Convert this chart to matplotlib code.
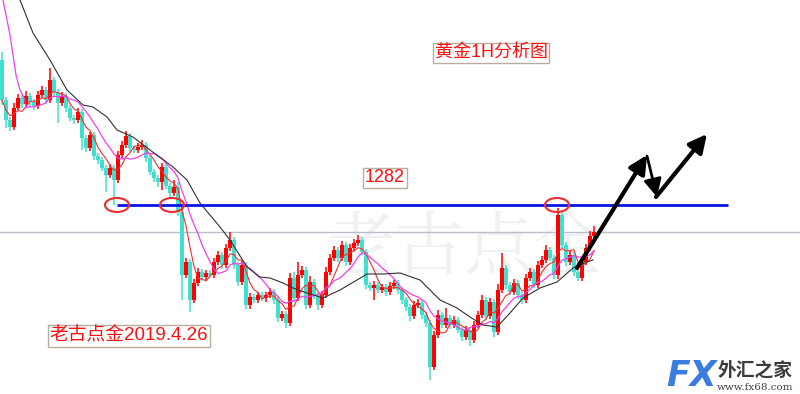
import numpy as np
import pandas as pd
import matplotlib
matplotlib.use("Agg")
from matplotlib import pyplot as plt
from matplotlib.patches import Ellipse

plt.rcParams['font.family'] = ['Noto Sans CJK SC', 'DejaVu Sans']

# hourly gold closes
closes = [
    1292.5, 1290.5, 1289.8, 1291.7, 1292.7, 1292.1, 1292.9, 1292.3, 1291.9, 1293.0,
    1293.5, 1292.5, 1294.5, 1293.3, 1292.2, 1292.9, 1291.7, 1290.7, 1290.5, 1291.3,
    1288.7, 1287.7, 1289.0, 1286.9, 1286.5, 1285.7, 1285.0, 1285.7, 1284.5, 1287.0,
    1288.0, 1288.9, 1287.7, 1287.5, 1287.8, 1288.0, 1286.7, 1285.3, 1284.7, 1284.3,
    1285.8, 1283.9, 1283.2, 1283.8, 1281.3, 1275.0, 1276.3, 1272.5, 1274.2, 1275.3,
    1274.8, 1275.2, 1275.0, 1276.3, 1277.0, 1276.0, 1277.7, 1278.5, 1276.0, 1274.3,
    1276.0, 1272.0, 1272.8, 1272.5, 1273.0, 1272.7, 1273.0, 1273.3, 1272.5, 1270.7,
    1271.1, 1270.2, 1274.7, 1272.7, 1275.0, 1275.5, 1272.0, 1274.3, 1273.0, 1272.0,
    1273.0, 1275.3, 1276.7, 1277.5, 1276.7, 1278.0, 1276.3, 1277.7, 1278.2, 1278.5,
    1277.3, 1274.0, 1273.7, 1274.0, 1273.5, 1273.8, 1273.3, 1273.9, 1274.2, 1273.5,
    1272.5, 1271.8, 1270.9, 1272.0, 1272.2, 1271.0, 1270.2, 1265.8, 1269.0, 1271.0,
    1270.0, 1270.7, 1270.0, 1270.5, 1269.5, 1268.8, 1269.5, 1268.5, 1270.0, 1271.0,
    1272.5, 1270.9, 1272.3, 1269.3, 1273.5, 1275.7, 1274.0, 1273.3, 1274.2, 1273.0,
    1272.5, 1274.7, 1275.3, 1274.0, 1276.0, 1276.5, 1277.5, 1276.7, 1275.0, 1281.0,
    1278.0, 1276.3, 1277.0, 1275.3, 1274.7, 1276.3, 1277.7, 1278.9, 1279.3,
]
first_open = 1296.5

# wick lengths above / below the body
up_wick = [
    0.8, 0.3, 0.3, 0.5, 0.4, 0.3, 0.5, 0.3, 0.3, 0.4,
    0.4, 0.3, 1.2, 0.3, 0.3, 0.4, 0.3, 0.3, 0.3, 0.4,
    0.3, 0.3, 0.3, 0.3, 0.3, 0.3, 0.3, 0.4, 0.3, 0.4,
    0.4, 0.5, 0.3, 0.3, 0.4, 0.5, 0.3, 0.3, 0.3, 0.3,
    0.4, 0.3, 0.3, 0.7, 0.5, 0.3, 0.4, 0.3, 0.4, 0.4,
    0.3, 0.3, 0.3, 0.4, 0.4, 0.3, 0.4, 0.8, 0.3, 0.3,
    0.4, 0.3, 0.4, 0.3, 0.3, 0.3, 0.3, 0.4, 0.3, 0.3,
    0.3, 0.3, 0.5, 0.6, 1.3, 0.4, 0.3, 0.6, 0.3, 0.3,
    0.4, 0.5, 0.4, 0.4, 0.3, 0.4, 0.3, 0.4, 0.4, 0.5,
    0.3, 0.3, 0.3, 0.4, 0.3, 0.3, 0.3, 0.4, 0.3, 0.3,
    0.3, 0.3, 0.3, 0.4, 0.4, 0.3, 0.3, 0.3, 0.4, 0.5,
    0.3, 1.0, 0.3, 0.4, 0.3, 0.3, 0.4, 0.3, 0.4, 0.4,
    0.5, 0.3, 0.4, 0.3, 0.6, 1.5, 0.3, 0.3, 0.4, 0.3,
    0.3, 0.4, 0.4, 0.3, 0.4, 0.4, 0.5, 0.3, 0.3, 0.7,
    0.3, 0.3, 0.4, 0.3, 0.3, 0.4, 0.4, 0.5, 0.6,
]
dn_wick = [
    0.5, 0.8, 0.4, 0.3, 0.3, 0.4, 0.3, 0.5, 0.4, 0.3,
    0.3, 0.4, 0.3, 0.4, 2.0, 0.3, 0.4, 0.3, 0.4, 0.3,
    1.2, 0.4, 0.3, 0.4, 0.4, 0.3, 1.7, 0.3, 2.5, 0.3,
    0.3, 0.3, 0.4, 0.3, 0.3, 0.3, 0.4, 0.3, 0.4, 0.5,
    0.8, 0.3, 0.4, 0.3, 0.4, 2.5, 0.3, 1.2, 0.3, 0.3,
    0.4, 0.3, 0.3, 0.3, 0.3, 0.4, 0.3, 0.3, 0.4, 0.4,
    0.3, 0.4, 0.4, 0.3, 0.3, 0.3, 0.4, 0.3, 0.4, 0.4,
    0.3, 0.5, 0.3, 0.3, 0.3, 0.3, 0.4, 0.3, 0.4, 0.5,
    0.3, 0.3, 0.3, 0.3, 0.4, 0.3, 0.4, 0.3, 0.3, 0.3,
    0.3, 0.4, 0.3, 1.2, 0.3, 0.3, 0.4, 0.3, 0.3, 0.4,
    0.4, 0.4, 0.5, 0.3, 0.3, 0.4, 0.4, 1.3, 0.3, 0.3,
    0.3, 0.3, 0.4, 0.3, 0.3, 0.4, 0.3, 0.6, 0.3, 0.3,
    0.3, 0.4, 0.3, 0.5, 0.3, 0.3, 0.4, 0.3, 0.3, 0.4,
    0.4, 0.3, 0.3, 0.3, 0.3, 0.3, 0.3, 0.3, 0.4, 0.4,
    0.3, 0.4, 0.3, 0.4, 0.3, 0.3, 0.3, 0.3, 0.3,
]

# long moving average (bar index -> price)
ma_long_idx = [4.5, 7.75, 12, 16.25, 20.25, 22.75, 26.25, 28.75, 32.75, 37, 42.75, 46.25,
               49.5, 54.5, 57, 61.25, 64.5, 67, 70.25, 72.75, 76.25, 80.25, 84.5, 88.75,
               91.25, 95.25, 99.5, 104.5, 109.5, 113.75, 117, 120.25, 123.75, 127, 130.25,
               134.5, 138.75, 142.75, 146.25, 147.75]
ma_long_val = [1302.5, 1299.2, 1296.5, 1293.5, 1292.0, 1291.8, 1290.8, 1289.5, 1288.8, 1287.5,
               1285.8, 1284.5, 1282.2, 1279.8, 1278.5, 1275.8, 1274.8, 1274.7, 1274.2, 1273.7,
               1273.2, 1272.7, 1273.5, 1274.5, 1275.1, 1275.1, 1275.2, 1274.5, 1272.5, 1271.7,
               1270.8, 1270.0, 1269.8, 1271.2, 1272.7, 1273.7, 1274.3, 1275.7, 1276.3, 1276.5]

# start of the 10-bar average, carried in from bars before the window
ma10_head_idx = [0.25, 2, 3.5, 4.5, 5.75]
ma10_head_val = [1302.5, 1299.0, 1295.0, 1293.5, 1292.5]

level = 1282.0
last_price = 1279.3
touch_bars = [28.75, 42.5, 138.75]

opens = [first_open] + closes[:-1]
df = pd.DataFrame({"open": opens, "close": closes})
df["high"] = df[["open", "close"]].max(axis=1) + np.array(up_wick)
df["low"] = df[["open", "close"]].min(axis=1) - np.array(dn_wick)
x = np.arange(len(df))

fig = plt.figure(figsize=(8, 3.94), dpi=100)
ax = fig.add_axes([0, 0, 1, 1])
ax.set_xlim(-0.5, 199.5)
ax.set_ylim(1263.1, 1302.5)
ax.axis("off")

# watermark
ax.text(0.58, 0.365, "老古点金", transform=ax.transAxes, fontsize=50, color="#f1f1f1",
        ha="center", va="center", family=["Noto Serif CJK SC", "Noto Sans CJK SC"], zorder=0)

ax.axhline(last_price, color="#b7bfcc", lw=1, zorder=1)

up = df["close"] >= df["open"]
red = "#ff0000"
cyan = "#40e0d0"
cols = np.where(up, red, cyan)
ax.vlines(x, df["low"], df["high"], colors=cols, lw=1.1, zorder=2)
body_h = (df["close"] - df["open"]).abs().clip(lower=0.15)
ax.bar(x, body_h, bottom=df[["open", "close"]].min(axis=1), width=0.82,
       color=cols, linewidth=0, zorder=3)

ma5 = df["close"].rolling(5, min_periods=1).mean()
ma10 = df["close"].rolling(10, min_periods=1).mean()
ax.plot(x, ma5, color="#f03030", lw=0.8, zorder=4)
ax.plot(list(ma10_head_idx) + list(x[6:]), list(ma10_head_val) + list(ma10[6:]),
        color="#f040f0", lw=0.9, zorder=4)
ax.plot(ma_long_idx, ma_long_val, color="#303030", lw=0.8, zorder=4)

ax.hlines(level, 28.75, 181.5, color="#0a14e6", lw=2, zorder=5)
for b in touch_bars:
    ax.add_patch(Ellipse((b, level), 6, 1.4, fill=False, edgecolor="#e83030", lw=1.5, zorder=6))

arrow = dict(arrowstyle="-|>,head_length=0.9,head_width=0.45", color="black", lw=3,
             shrinkA=0, shrinkB=0, mutation_scale=12)
ax.annotate("", xy=(161.25, 1287.0), xytext=(143.75, 1275.7), arrowprops=arrow, zorder=7)
ax.annotate("", xy=(163.75, 1282.8), xytext=(161.25, 1286.9),
            arrowprops=dict(arrow, lw=2), zorder=7)
ax.annotate("", xy=(176.25, 1289.1), xytext=(163.5, 1282.8), arrowprops=arrow, zorder=7)

fams = ["Liberation Sans", "Noto Sans CJK SC"]
box = dict(boxstyle="square,pad=0.1", facecolor="white", edgecolor="#b9aca0", lw=1)
ax.text(491 / 800, 1 - 53 / 394, "黄金1H分析图", transform=ax.transAxes, fontsize=13,
        color="#ff1010", ha="center", va="center", bbox=box, family=fams, zorder=8)
ax.text(385 / 800, 1 - 178 / 394, "1282", transform=ax.transAxes, fontsize=13,
        color="#ff1010", ha="center", va="center", bbox=box, family=fams, zorder=8)
ax.text(129 / 800, 1 - 336 / 394, "老古点金2019.4.26", transform=ax.transAxes, fontsize=13.5,
        color="#ff1010", ha="center", va="center", bbox=box, family=fams, zorder=8)

# logo
ax.text(692 / 800, 1 - 376 / 394, "FX", transform=ax.transAxes, fontsize=25,
        fontweight="bold", fontstyle="italic", color="#3a7de0", ha="center", va="center",
        family=["DejaVu Sans"], zorder=8)
ax.text(755 / 800, 1 - 370 / 394, "外汇之家", transform=ax.transAxes, fontsize=13.5,
        fontweight="bold", color="#3c3c3c", ha="center", va="center", zorder=8)
ax.text(755 / 800, 1 - 387 / 394, "www.fx68.com", transform=ax.transAxes, fontsize=7.5,
        color="#444444", ha="center", va="center", family=["DejaVu Serif"], zorder=8)

fig.savefig("out.png", dpi=100, facecolor="white")
